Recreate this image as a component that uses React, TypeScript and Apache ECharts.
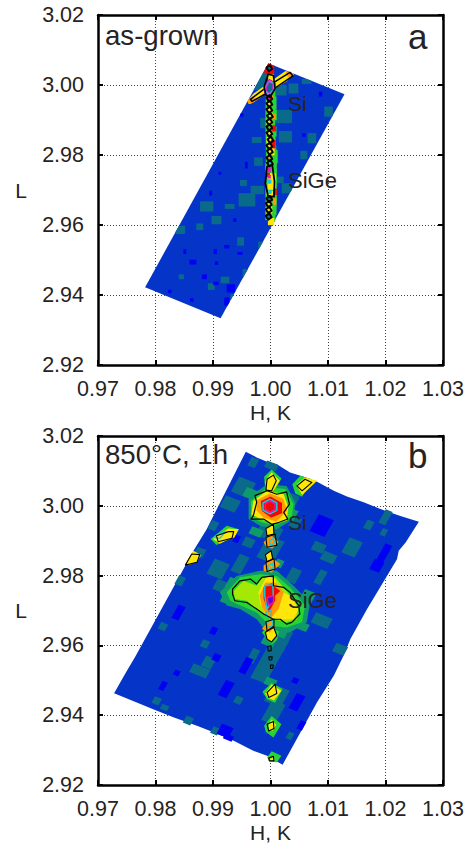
import React, { useEffect, useRef } from "react";
import * as echarts from "echarts";

type P = number[];
const hTicks = [0.97, 0.98, 0.99, 1.0, 1.01, 1.02, 1.03];
const lTicks = [2.92, 2.94, 2.96, 2.98, 3.0, 3.02];
const hName = "H, K";
const lName = "L";

// ---------- panel a: as-grown (H, L) ----------
const aFrame: P[] = [[0.99962, 3.00619], [1.01287, 2.99733], [0.99132, 2.93333], [0.97819, 2.94219]];
// cells: H, L, dH, dL
const aTeal: P[] = [
  [1.004, 2.999, 0.0017, 0.0029], [1.0023, 2.991, 0.0029, 0.0038], [1.0026, 2.9852, 0.0023, 0.0033],
  [1.0072, 2.9848, 0.0015, 0.0029], [1.0058, 2.98, 0.0012, 0.0024], [0.9976, 2.9843, 0.0017, 0.0017],
  [0.9979, 2.9781, 0.0015, 0.0024], [0.9988, 2.9891, 0.0012, 0.0029], [1.0101, 2.9924, 0.0015, 0.0029],
  [1.0063, 3.001, 0.0017, 0.0014], [0.9953, 2.972, 0.0012, 0.0017], [0.9959, 2.9672, 0.0029, 0.0038],
  [0.9977, 2.97, 0.0023, 0.0024], [0.9889, 2.9653, 0.0023, 0.0029], [0.9906, 2.9614, 0.0017, 0.0024],
  [0.9929, 2.9653, 0.0017, 0.0014], [0.9877, 2.9595, 0.0012, 0.0019], [0.9843, 2.9586, 0.0017, 0.0024],
  [1.0028, 2.9705, 0.0017, 0.0029], [1.0017, 2.9729, 0.0012, 0.0019], [0.9948, 2.9553, 0.0012, 0.0024],
  [0.9983, 2.9543, 0.0009, 0.0019], [0.9956, 2.9462, 0.0009, 0.0024], [0.9921, 2.9443, 0.0015, 0.0019],
  [0.9845, 2.9452, 0.0009, 0.0014], [0.9897, 2.9424, 0.0012, 0.0019], [0.9935, 2.9395, 0.0009, 0.0014],
  [0.998, 3.0005, 0.0022, 0.0038], [1.0018, 2.9985, 0.002, 0.003], [0.999, 3.0028, 0.0012, 0.0022],
];
const aDarkBlue: P[] = [
  [0.9865, 2.9494, 0.0012, 0.0014], [0.9885, 2.9452, 0.0009, 0.0014], [0.9905, 2.9433, 0.0009, 0.001],
  [0.9931, 2.9419, 0.0015, 0.0024], [0.9924, 2.9381, 0.0009, 0.0024], [0.9863, 2.9386, 0.0006, 0.001],
  [0.9825, 2.941, 0.0006, 0.001], [0.9958, 2.9771, 0.0005, 0.0019], [0.9912, 2.9748, 0.0005, 0.0008],
  [0.9896, 2.9691, 0.0005, 0.0014], [0.9938, 2.9614, 0.0006, 0.001], [0.9924, 2.9538, 0.0009, 0.001],
  [0.9947, 2.9519, 0.0009, 0.0008], [0.9904, 2.9524, 0.0006, 0.0014], [1.0087, 2.9974, 0.0006, 0.0014],
  [1.0058, 2.9857, 0.0006, 0.001], [0.995, 2.9914, 0.0006, 0.001], [0.9851, 2.9524, 0.0005, 0.0014],
  [0.9906, 2.9491, 0.0006, 0.001],
];
const aColumn: P[] = [
  [0.9992, 3.0005], [1.0008, 3.0005], [1.0009, 2.9948], [1.0008, 2.9867], [1.0011, 2.98], [1.0011, 2.967],
  [1.0008, 2.961], [1.0002, 2.9602], [0.9992, 2.9618], [0.9991, 2.97], [0.9992, 2.98], [0.9991, 2.99],
];
const aGreen: P[] = [
  [1.0002, 2.9948, 0.0017, 0.0038], [1.0005, 2.9914, 0.0012, 0.0029], [1.0002, 2.9867, 0.0017, 0.0029],
  [1.0005, 2.9795, 0.0015, 0.0038], [1.0002, 2.9653, 0.0017, 0.0048], [0.9994, 2.9767, 0.0006, 0.0019],
  [0.9997, 2.9633, 0.0012, 0.0038], [1.0003, 2.9738, 0.0016, 0.0045],
];
const aYellow: P[] = [
  [1.0001, 3.0029, 0.001, 0.0033], [1.0001, 2.9814, 0.0012, 0.0029], [0.9998, 2.9843, 0.001, 0.0017],
  [0.9998, 2.9895, 0.001, 0.0017], [0.9999, 2.9914, 0.0009, 0.0014], [0.9998, 2.9643, 0.001, 0.0019],
  [1.0001, 2.961, 0.0011, 0.0021], [0.9999, 2.9691, 0.0012, 0.0012], [0.9998, 2.9948, 0.0009, 0.0017],
  [1.0002, 2.9724, 0.0014, 0.0048], [0.9998, 2.9862, 0.001, 0.0012], [0.9998, 2.9929, 0.0009, 0.001],
  [0.9997, 2.966, 0.0009, 0.001],
];
const aOrange: P[] = [
  [1.0006, 2.991, 0.0006, 0.0016], [1.0007, 2.9667, 0.0006, 0.0019], [0.9997, 2.9795, 0.0006, 0.0014],
  [1.0003, 2.9964, 0.0004, 0.001],
];
const aRed: P[] = [
  [0.9998, 3.0046, 0.0017, 0.0031], [1.0006, 2.9876, 0.0007, 0.0017], [1.0005, 2.9831, 0.0008, 0.0024],
  [0.9998, 2.9957, 0.0008, 0.0013], [1.0008, 2.9695, 0.0006, 0.0019], [0.9996, 2.9743, 0.0006, 0.0012],
];
const aCyan: P[] = [
  [0.9998, 2.9776, 0.0008, 0.0017], [0.9998, 2.9724, 0.0007, 0.0012], [0.9999, 2.9695, 0.0006, 0.0012],
  [0.9997, 2.9757, 0.0006, 0.001], [0.9999, 2.9906, 0.0005, 0.0008],
];
const aMagenta: P[] = [
  [0.9998, 2.9757, 0.0005, 0.0013], [0.9998, 2.9738, 0.0005, 0.001], [0.9997, 2.9962, 0.0005, 0.0008],
];
const aTealCore: P[] = [
  [0.9998, 2.9676, 0.0006, 0.0011], [0.9998, 2.9624, 0.0006, 0.0011], [0.9998, 3.0048, 0.0005, 0.001],
];
const aStreak: P[] = [
  [0.996, 2.9955], [0.997, 2.9975], [0.9994, 3.0003], [1.0026, 3.004], [1.0041, 3.0032], [1.0028, 3.001],
  [0.9999, 2.9982], [0.997, 2.995], [0.9962, 2.9946],
];
const aStreakEndL: P[] = [[0.9959, 2.9953], [0.9969, 2.9968], [0.9977, 2.9958], [0.9965, 2.9945]];
const aStreakEndR: P[] = [[1.0026, 3.0039], [1.0041, 3.0033], [1.0041, 3.0028], [1.003, 3.0022]];
const aStreakLine: P[] = [
  [0.9965, 2.9959], [0.9997, 2.9998], [1.0034, 3.0036], [1.0039, 3.0026], [1.0002, 2.9985], [0.9968, 2.9953],
];
const aBlobCyan: P[] = [[0.9989, 2.9994], [0.9998, 3.0016], [1.0008, 3.0006], [1.0008, 2.9985], [0.9998, 2.9969], [0.999, 2.9976]];
const aBlobCore: P[] = [[0.9993, 2.9994], [0.9998, 3.0008], [1.0004, 3.0002], [1.0004, 2.9988], [0.9998, 2.9977], [0.9993, 2.9983]];
const aOutlineTop: P[] = [[0.9989, 2.9995], [0.9996, 3.0031], [1.0005, 3.0027], [1.0008, 2.999], [0.9999, 2.9965], [0.9992, 2.9971]];
const aOutlineSiGe: P[] = [[0.9994, 2.9767], [1.0003, 2.9772], [1.0007, 2.9724], [1.0006, 2.9681], [0.9996, 2.9681], [0.9991, 2.9719]];
// black links of the ridge: H, L
const aLinks: P[] = [
  [0.9998, 3.0048], [0.9998, 2.9962], [0.9998, 2.9946], [0.9998, 2.9929], [0.9999, 2.9911], [0.9998, 2.9895],
  [0.9998, 2.9879], [0.9998, 2.9862], [1.0, 2.9843], [0.9998, 2.9826], [0.9999, 2.981], [0.9998, 2.9791],
  [0.9999, 2.9776], [0.9998, 2.9674], [0.9997, 2.966], [0.9997, 2.9643], [0.9997, 2.9624],
];

// ---------- panel b: 850 C, 1h (H, L) ----------
const bFrame: P[] = [
  [0.9957, 3.01547], [0.9976, 3.01385], [0.9994, 3.0126], [1.0011, 3.0119], [1.0034, 3.00955], [1.0058, 3.0083],
  [1.0081, 3.0069], [1.011, 3.0043], [1.0133, 3.0027], [1.0162, 3.001], [1.0197, 2.9987], [1.0226, 2.9971],
  [1.0258, 2.9954], [1.0235, 2.9895], [1.0223, 2.9871], [1.022, 2.9847], [1.0168, 2.9704], [1.0139, 2.9618],
  [1.0127, 2.957], [1.011, 2.9513], [1.0081, 2.9437], [1.0021, 2.9258], [0.9994, 2.9284], [0.997, 2.9298],
  [0.9936, 2.9327], [0.9901, 2.9351], [0.9872, 2.937], [0.9831, 2.9394], [0.9796, 2.9417], [0.9761, 2.9441],
  [0.9728, 2.9463], [0.975, 2.9527], [0.9764, 2.9565], [0.9831, 2.9766], [0.9866, 2.9871], [0.9889, 2.9933],
];
const bTeal: P[] = [
  [0.997, 3.0124, 0.0013, 0.0024], [1.0002, 3.0115, 0.002, 0.0019], [0.9953, 3.0053, 0.0029, 0.0043],
  [0.993, 3.0005, 0.0026, 0.0033], [0.9901, 2.9943, 0.0012, 0.0024], [0.9877, 2.9866, 0.0015, 0.0024],
  [0.9962, 2.9895, 0.0017, 0.0024], [0.9909, 2.9819, 0.0026, 0.0043], [0.9947, 2.9833, 0.0017, 0.0048],
  [0.9912, 2.9771, 0.0017, 0.0029], [0.9843, 2.9785, 0.0012, 0.0024], [1.0087, 2.9795, 0.0012, 0.0038],
  [1.0101, 2.9852, 0.0023, 0.0024], [1.0084, 2.9881, 0.002, 0.0024], [1.004, 2.98, 0.0017, 0.0038],
  [1.0142, 2.9881, 0.0023, 0.0043], [1.0171, 2.9945, 0.0012, 0.0024], [1.02, 2.9967, 0.0012, 0.0038],
  [1.0197, 2.9924, 0.0009, 0.0019], [1.0121, 2.9589, 0.002, 0.0024], [1.0089, 2.9671, 0.0029, 0.0029],
  [0.9886, 2.9604, 0.0012, 0.0019], [0.9813, 2.9654, 0.0012, 0.0019], [0.9877, 2.9527, 0.0029, 0.0024],
  [0.9892, 2.9551, 0.0017, 0.0029], [0.9857, 2.9384, 0.0013, 0.0021], [0.9904, 2.9355, 0.0012, 0.0019],
  [0.9802, 2.9441, 0.0012, 0.0019], [0.9816, 2.9422, 0.0012, 0.0014], [0.9944, 2.9443, 0.0012, 0.0019],
  [0.997, 2.957, 0.0012, 0.0038], [0.9999, 2.9561, 0.0026, 0.0124], [1.0023, 2.9618, 0.0017, 0.0048],
  [1.0011, 2.9456, 0.0029, 0.0048], [1.0005, 2.9408, 0.0023, 0.0057], [1.0034, 2.9341, 0.0009, 0.0019],
  [1.0043, 2.9952, 0.0015, 0.0029], [1.0034, 3.0005, 0.0017, 0.0053], [1.0, 2.9875, 0.0028, 0.0062],
  [1.0008, 2.9925, 0.002, 0.0028], [0.9988, 2.9925, 0.002, 0.0028],
];
const bSeaCells: P[] = [
  [0.9935, 2.9775, 0.002, 0.003], [0.9925, 2.973, 0.002, 0.002], [1.0065, 2.974, 0.002, 0.003],
  [1.0055, 2.9655, 0.002, 0.002], [1.0018, 2.9635, 0.0018, 0.002], [0.9965, 3.0035, 0.002, 0.0025],
  [1.0035, 2.9975, 0.0018, 0.003], [0.9975, 2.9925, 0.002, 0.002], [0.9998, 2.9615, 0.002, 0.003],
  [1.0, 2.9495, 0.0018, 0.002], [1.0015, 2.9835, 0.0012, 0.002],
];
const bDarkBlue: P[] = [
  [1.0089, 2.9943, 0.0026, 0.0048], [1.0197, 2.9862, 0.0012, 0.0053], [1.0185, 2.9828, 0.0017, 0.0029],
  [0.984, 2.9694, 0.0012, 0.0038], [0.9901, 2.9642, 0.001, 0.0019], [0.9906, 2.9565, 0.0012, 0.0019],
  [0.9957, 2.9542, 0.0012, 0.0043], [0.9923, 2.9475, 0.0015, 0.0043], [1.0043, 2.9499, 0.001, 0.0014],
  [1.0046, 2.9437, 0.0015, 0.0043], [1.0055, 2.937, 0.0012, 0.0024], [0.9921, 2.9355, 0.002, 0.0029],
  [0.9927, 2.9336, 0.0015, 0.0014], [0.9813, 2.9484, 0.0009, 0.0024], [0.9837, 2.9521, 0.0009, 0.0014],
  [0.9941, 2.9905, 0.0009, 0.0019],
];
// Si peak
const bSiSea: P[] = [[0.9962, 3.0024], [0.9994, 3.0062], [1.0028, 3.0057], [1.0043, 3.001], [1.004, 2.9962], [1.0011, 2.9933], [0.9982, 2.9943], [0.9962, 2.9962]];
const bSiGreen: P[] = [[0.9966, 3.0014], [0.9994, 3.0053], [1.0026, 3.0048], [1.004, 3.0005], [1.0037, 2.9964], [1.0008, 2.9943], [0.9985, 2.9952], [0.9966, 2.9967]];
const bSiYellow: P[] = [[0.997, 3.0014], [0.9994, 3.0043], [1.0023, 3.0033], [1.0031, 2.9995], [1.0028, 2.9957], [1.0005, 2.9947], [0.9982, 2.9962], [0.9967, 2.9976]];
const bSiOrange: P[] = [[0.9976, 3.0016], [0.9999, 3.0035], [1.0022, 3.0021], [1.0029, 2.9986], [1.001, 2.9955], [0.9989, 2.9965], [0.9976, 2.9986]];
const bSiRed: P[] = [[0.9983, 3.0014], [1.0, 3.0027], [1.002, 3.0008], [1.002, 2.9979], [1.0001, 2.9966], [0.9985, 2.9985]];
const bSiCyan: P[] = [[0.9987, 3.0008], [0.9999, 3.0019], [1.0011, 3.0008], [1.0011, 2.9987], [0.9999, 2.9977], [0.9987, 2.9988]];
const bSiPink: P[] = [[0.9991, 3.0005], [0.9999, 3.0014], [1.0008, 3.0005], [1.0008, 2.999], [0.9999, 2.9981], [0.9991, 2.9991]];
const bSiBlack: P[] = [[0.997, 2.9971], [0.9976, 3.001], [0.9973, 3.0029], [0.9994, 3.0043], [1.0011, 3.0033], [1.0028, 3.004], [1.0033, 3.0005], [1.0023, 2.9981], [1.003, 2.9962], [1.0014, 2.9952], [1.0002, 2.9947], [0.9988, 2.9962], [0.9966, 2.9962]];
// SiGe peak
const bGeSea: P[] = [[0.9912, 2.9752], [0.9941, 2.9799], [0.9982, 2.9814], [1.0011, 2.9814], [1.004, 2.9771], [1.0069, 2.9723], [1.0063, 2.9666], [1.0034, 2.9637], [0.9994, 2.9637], [0.9976, 2.9675], [0.9947, 2.9704], [0.9924, 2.9714]];
const bGeGreen: P[] = [[0.9924, 2.9752], [0.9947, 2.9795], [0.9982, 2.9804], [1.0011, 2.9799], [1.0034, 2.9766], [1.006, 2.9714], [1.0055, 2.9666], [1.0028, 2.9651], [0.9999, 2.9656], [0.9976, 2.9694], [0.9947, 2.9715], [0.993, 2.9728]];
const bGeLime: P[] = [[0.9936, 2.9756], [0.9953, 2.9785], [0.9976, 2.9771], [0.9985, 2.9795], [1.0008, 2.9795], [1.0028, 2.9756], [1.0049, 2.9709], [1.0046, 2.9675], [1.0028, 2.9666], [1.0005, 2.9675], [0.9982, 2.9694], [0.9959, 2.9728], [0.9938, 2.9733]];
const bGeYellow: P[] = [[0.9979, 2.9752], [0.9994, 2.9799], [1.0008, 2.979], [1.0011, 2.9761], [1.0034, 2.9742], [1.0049, 2.9704], [1.004, 2.9675], [1.0011, 2.9675], [0.9994, 2.9685], [0.9982, 2.9718]];
const bGeOrange: P[] = [[0.9981, 2.9742], [0.9991, 2.978], [1.0008, 2.978], [1.0023, 2.9752], [1.0014, 2.9704], [0.9999, 2.9675], [0.9985, 2.9709]];
const bGeRed: P[] = [[0.9988, 2.9766], [1.0002, 2.9778], [1.0008, 2.9761], [1.0008, 2.9728], [0.9997, 2.9694], [0.9988, 2.9733]];
const bGeRedBit: P[] = [[1.0005, 2.9771], [1.0017, 2.9756], [1.0008, 2.9742]];
const bGeCyan: P[] = [[0.999, 2.9771], [1.0004, 2.9774], [1.0005, 2.9737], [0.9994, 2.9704], [0.999, 2.9742]];
const bGePurple: P[] = [[0.9994, 2.9737], [1.0005, 2.9742], [1.0005, 2.9723], [0.9997, 2.9714]];
const bGeBlack: P[] = [[0.9934, 2.9761], [0.9947, 2.9785], [0.9965, 2.979], [0.9976, 2.9776], [0.9985, 2.9795], [1.0005, 2.9799], [1.0005, 2.9771], [1.0023, 2.9766], [1.0034, 2.9752], [1.0049, 2.9714], [1.0051, 2.969], [1.0037, 2.9666], [1.0028, 2.9661], [1.0017, 2.9675], [1.0005, 2.9675], [0.9988, 2.969], [0.9976, 2.9704], [0.9959, 2.9723], [0.9938, 2.9728], [0.9934, 2.9747]];
// small spots: halo green, yellow fill, black outline
const bSpotGreen: P[][] = [
  [[0.9989, 3.0083], [1.0002, 3.0104], [1.0019, 3.0078], [1.0005, 3.0038], [0.9991, 3.0043]],
  [[1.0038, 3.0062], [1.0052, 3.0086], [1.0072, 3.0076], [1.0055, 3.0026], [1.0043, 3.0035]],
  [[0.9896, 2.9905], [0.9924, 2.9943], [0.9945, 2.9933], [0.9933, 2.9909], [0.9906, 2.9888]],
  [[0.9986, 2.9467], [1.0002, 2.9492], [1.0021, 2.9475], [1.0008, 2.9436], [0.9994, 2.9446]],
  [[0.9989, 2.937], [1.0002, 2.9398], [1.0019, 2.9374], [1.0005, 2.9336], [0.9992, 2.9352]],
  [[0.9994, 2.9279], [1.0002, 2.9297], [1.0019, 2.9284], [1.0011, 2.9265], [0.9999, 2.9267]],
  [[0.9985, 2.9637], [0.9995, 2.9655], [1.0015, 2.964], [1.0011, 2.9615], [1.0002, 2.9603]],
];
const bSpotYellow: P[][] = [
  [[0.9994, 3.0078], [1.0002, 3.0096], [1.0016, 3.0072], [1.0005, 3.0043], [0.9994, 3.0043], [0.9991, 3.0067]],
  [[1.0046, 3.0062], [1.006, 3.0081], [1.0081, 3.0072], [1.0066, 3.0048], [1.0055, 3.0031], [1.0046, 3.0057]],
  [[0.9906, 2.9914], [0.9927, 2.9935], [0.9945, 2.9933], [0.9937, 2.9909], [0.9922, 2.99], [0.9912, 2.9891], [0.99, 2.9905]],
  [[0.9866, 2.9871], [0.9879, 2.9859], [0.9872, 2.9838], [0.9857, 2.983], [0.9851, 2.9833]],
  [[0.9991, 2.9462], [1.0002, 2.9489], [1.0019, 2.947], [1.0006, 2.9443], [0.9996, 2.9449]],
  [[0.9997, 2.9374], [1.0002, 2.9388], [1.001, 2.9372], [1.0003, 2.9355], [0.9997, 2.9358]],
  [[0.9999, 2.9277], [1.0005, 2.9284], [1.0007, 2.9272], [1.0, 2.927]],
  [[0.9991, 2.9637], [1.0005, 2.9654], [1.0011, 2.9628], [1.0002, 2.961], [0.9994, 2.9618]],
  [[0.9992, 2.9935], [1.0005, 2.9947], [1.0006, 2.9919], [0.9994, 2.9914]],
  [[0.9991, 2.9857], [1.0001, 2.9871], [1.0004, 2.9847], [0.9994, 2.984]],
];
const bSpotOrange: P[][] = [
  [[0.9988, 2.9895], [0.9999, 2.992], [1.0014, 2.9896], [1.0003, 2.9878], [0.9993, 2.9881]],
  [[0.9988, 2.9828], [1.0002, 2.9852], [1.0017, 2.9833], [1.0002, 2.9809], [0.9988, 2.9814]],
  [[0.9985, 2.9647], [0.9999, 2.9675], [1.0008, 2.9656], [0.9999, 2.9637]],
];
const bSpotCyan: P[][] = [
  [[0.9998, 2.9898], [1.0005, 2.9908], [1.0007, 2.9893], [1.0, 2.9887]],
  [[0.9995, 2.9827], [1.0004, 2.9836], [1.0005, 2.9821], [0.9997, 2.9816]],
  [[0.9992, 2.9694], [1.0001, 2.9702], [1.0001, 2.9685], [0.9994, 2.968]],
  [[0.9994, 2.9666], [1.0004, 2.9673], [1.0004, 2.9656], [0.9995, 2.9651]],
  [[0.9902, 2.9909], [0.9908, 2.9918], [0.9922, 2.9926], [0.9912, 2.9907]],
];
const bSpotBlack: P[][] = [
  [[0.9994, 3.0076], [1.0005, 3.0088], [1.001, 3.0072], [1.0002, 3.0043], [0.9992, 3.0045]],
  [[1.0046, 3.0057], [1.006, 3.0076], [1.0072, 3.0067], [1.0055, 3.0043]],
  [[0.9992, 2.9935], [1.0005, 2.9947], [1.0006, 2.9919], [0.9994, 2.9914]],
  [[0.9992, 2.9909], [1.0008, 2.9919], [1.0011, 2.9887], [0.9994, 2.9881]],
  [[0.9906, 2.9914], [0.9927, 2.9926], [0.9936, 2.9926], [0.9933, 2.9907], [0.9909, 2.9897]],
  [[0.9863, 2.9862], [0.9877, 2.986], [0.9872, 2.9838], [0.9852, 2.983]],
  [[0.9991, 2.986], [1.0001, 2.9871], [1.0004, 2.9847], [0.9994, 2.984]],
  [[0.9992, 2.9838], [1.0006, 2.9849], [1.0008, 2.9819], [0.9994, 2.9812]],
  [[0.9992, 2.9668], [1.0006, 2.9675], [1.0006, 2.9651], [0.9994, 2.9642]],
  [[0.9991, 2.9637], [1.0005, 2.9654], [1.0011, 2.9628], [1.0002, 2.961], [0.9994, 2.9618]],
  [[0.9995, 2.9597], [1.0001, 2.9599], [1.0001, 2.9585], [0.9996, 2.9584]],
  [[0.9997, 2.9567], [1.0003, 2.9567], [1.0002, 2.9558], [0.9998, 2.9558]],
  [[1.0, 2.9544], [1.0005, 2.9544], [1.0004, 2.9534], [1.0, 2.9534]],
  [[0.9994, 2.9465], [1.0008, 2.9489], [1.0011, 2.9462], [0.9997, 2.9451]],
  [[0.9994, 2.9374], [1.0005, 2.9382], [1.0006, 2.9362], [0.9997, 2.9355]],
  [[0.9997, 2.9277], [1.0005, 2.9282], [1.0006, 2.9269], [0.9998, 2.9269]],
];
// corners of the scanned areas, used to trim the cells
const aBounds: P[] = aFrame;
const bBounds: P[] = [[0.9957, 3.01547], [1.0258, 2.9954], [1.0021, 2.9258], [0.9728, 2.9463]];

// ---------- colours ----------
const BLUE = "#0535c8";
const DARK_BLUE = "#0000f2";
const TEAL = "#0a6a8c";
const GREEN = "#27d433";
const SEA = "#0f9a6a";
const LIME = "#a4e806";
const YELLOW = "#ffe60a";
const ORANGE = "#ff9a06";
const RED = "#f40606";
const MAGENTA = "#e018c8";
const PURPLE = "#6a00c4";
const CYAN = "#16c8d8";
const BLACK = "#000000";
const INK = "#262324";

type Shape = { pts: P[]; fill?: string; stroke?: string; lw?: number };

// trim a polygon to a convex clockwise boundary
const trim = (poly: P[], bounds: P[]): P[] => {
  let out = poly;
  for (let i = 0; i < bounds.length && out.length; i++) {
    const a = bounds[i];
    const b = bounds[(i + 1) % bounds.length];
    const side = (p: P) => (b[0] - a[0]) * (p[1] - a[1]) - (b[1] - a[1]) * (p[0] - a[0]);
    const next: P[] = [];
    out.forEach((p, k) => {
      const q = out[(k + 1) % out.length];
      const sp = side(p);
      const sq = side(q);
      if (sp <= 0) next.push(p);
      if ((sp < 0 && sq > 0) || (sp > 0 && sq < 0)) {
        const t = sp / (sp - sq);
        next.push([p[0] + t * (q[0] - p[0]), p[1] + t * (q[1] - p[1])]);
      }
    });
    out = next;
  }
  return out;
};

// axis-aligned data cell
const rectCell = (c: P): P[] => {
  const [h, l, dh, dl] = c;
  return [[h - dh / 2, l + dl / 2], [h + dh / 2, l + dl / 2], [h + dh / 2, l - dl / 2], [h - dh / 2, l - dl / 2]];
};
// cell sheared along the scan directions of the mesh
const skewCell = (c: P): P[] => {
  const [h, l, dh, dl] = c;
  const w = dh / 2;
  const t = dl / 2;
  const u = [w, -0.663 * w];
  const v = [0.34 * t, t];
  return [
    [h - u[0] + v[0], l - u[1] + v[1]],
    [h + u[0] + v[0], l + u[1] + v[1]],
    [h + u[0] - v[0], l + u[1] - v[1]],
    [h - u[0] - v[0], l - u[1] - v[1]],
  ];
};
const linkCell = (c: P): P[] => {
  const [h, l] = c;
  return [[h - 0.0005, l + 0.0002], [h + 0.0001, l + 0.0009], [h + 0.0005, l - 0.0002], [h - 0.0001, l - 0.0009]];
};
const fillAll = (list: P[], f: (c: P) => P[], fill: string, bounds?: P[]): Shape[] =>
  list.map((c) => ({ pts: bounds ? trim(f(c), bounds) : f(c), fill })).filter((s) => s.pts.length > 2);

const aShapes: Shape[] = [
  { pts: aFrame, fill: BLUE },
  ...fillAll(aTeal, rectCell, TEAL, aBounds),
  ...fillAll(aDarkBlue, rectCell, DARK_BLUE, aBounds),
  { pts: aColumn, fill: GREEN },
  ...fillAll(aGreen, rectCell, GREEN),
  ...fillAll(aYellow, rectCell, YELLOW),
  ...fillAll(aOrange, rectCell, ORANGE),
  ...fillAll(aRed, rectCell, RED, aBounds),
  { pts: aStreak, fill: YELLOW },
  { pts: aStreakEndL, fill: ORANGE },
  { pts: aStreakEndR, fill: ORANGE },
  { pts: aStreakLine, stroke: BLACK, lw: 1.5 },
  { pts: aBlobCyan, fill: CYAN, stroke: MAGENTA, lw: 1.2 },
  { pts: aBlobCore, fill: TEAL, stroke: MAGENTA, lw: 1 },
  ...fillAll(aCyan, rectCell, CYAN),
  ...fillAll(aMagenta, rectCell, MAGENTA),
  ...fillAll(aTealCore, rectCell, TEAL),
  { pts: aOutlineTop, stroke: BLACK, lw: 1.6 },
  { pts: aOutlineSiGe, stroke: BLACK, lw: 1.8 },
  ...aLinks.map((c) => ({ pts: linkCell(c), stroke: BLACK, lw: 2 })),
];

const filled = (polys: P[][], fill: string): Shape[] => polys.map((pts) => ({ pts, fill }));
const bShapes: Shape[] = [
  { pts: bFrame, fill: BLUE },
  ...fillAll(bTeal, skewCell, TEAL, bBounds),
  ...fillAll(bDarkBlue, skewCell, DARK_BLUE, bBounds),
  ...fillAll(bSeaCells, skewCell, SEA, bBounds),
  ...filled([bSiSea, bGeSea], SEA),
  ...filled([bSiGreen, bGeGreen], GREEN),
  ...filled(bSpotGreen, GREEN),
  { pts: bGeLime, fill: LIME },
  ...filled([bSiYellow, bGeYellow], YELLOW),
  ...filled(bSpotYellow, YELLOW),
  ...filled([bSiOrange, bGeOrange], ORANGE),
  ...filled(bSpotOrange, ORANGE),
  ...filled([bSiRed, bGeRed, bGeRedBit], RED),
  { pts: bSiCyan, stroke: CYAN, lw: 1.5 },
  { pts: bSiPink, stroke: MAGENTA, lw: 1.3 },
  { pts: bGeCyan, stroke: CYAN, lw: 1.5 },
  { pts: bGePurple, fill: PURPLE, stroke: MAGENTA, lw: 1.2 },
  ...bSpotCyan.map((pts) => ({ pts, stroke: CYAN, lw: 1.2 })),
  { pts: bSiBlack, stroke: BLACK, lw: 1.2 },
  { pts: bGeBlack, stroke: BLACK, lw: 1.2 },
  ...bSpotBlack.map((pts) => ({ pts, stroke: BLACK, lw: 1.1 })),
];

const FONT = '"Liberation Sans", Arial, sans-serif';
const GRID_LEFT = 98;
const GRID_WIDTH = 345;
const panels = [
  { top: 15, height: 350, shapes: aShapes },
  { top: 436, height: 349, shapes: bShapes },
];

const notes = [
  { text: "as-grown", x: 105, y: 35, size: 27.6 },
  { text: "a", x: 408, y: 36, size: 35 },
  { text: "Si", x: 288, y: 103, size: 21 },
  { text: "SiGe", x: 288, y: 180, size: 22 },
  { text: "850°C, 1h", x: 105, y: 454, size: 27.6 },
  { text: "b", x: 408, y: 455, size: 35 },
  { text: "Si", x: 288, y: 522, size: 21 },
  { text: "SiGe", x: 288, y: 600, size: 22 },
];

export default function App() {
  const ref = useRef<HTMLDivElement>(null);
  useEffect(() => {
    const chart = echarts.init(ref.current!, undefined, { renderer: "svg" });
    const tick = { show: true, inside: true, length: 5, lineStyle: { color: BLACK, width: 2 } };
    const axisLine = { show: true, onZero: false, lineStyle: { color: BLACK, width: 2.5 } };
    const split = { show: true, lineStyle: { color: "#444", type: [1, 2] as any, width: 1 } };
    const xAxis: any[] = [];
    const yAxis: any[] = [];
    panels.forEach((_, g) => {
      xAxis.push({
        gridIndex: g, type: "value", min: hTicks[0], max: hTicks[hTicks.length - 1], interval: 0.01,
        position: "bottom", axisLine, axisTick: tick, splitLine: split,
        axisLabel: { margin: 13, fontSize: 21.5, fontFamily: FONT, color: INK, formatter: (v: number) => v.toFixed(2), hideOverlap: false, showMinLabel: true, showMaxLabel: true },
        name: hName, nameLocation: "middle", nameGap: 37, nameTextStyle: { fontSize: 21, fontFamily: FONT, color: INK },
      });
      xAxis.push({
        gridIndex: g, type: "value", min: hTicks[0], max: hTicks[hTicks.length - 1], interval: 0.01,
        position: "top", axisLine, axisTick: tick, splitLine: { show: false }, axisLabel: { show: false },
      });
      yAxis.push({
        gridIndex: g, type: "value", min: lTicks[0], max: lTicks[lTicks.length - 1], interval: 0.02,
        position: "left", axisLine, axisTick: tick, splitLine: split,
        axisLabel: { margin: 14, fontSize: 21.5, fontFamily: FONT, color: INK, formatter: (v: number) => v.toFixed(2), showMinLabel: true, showMaxLabel: true },
        name: lName, nameLocation: "middle", nameGap: 71, nameRotate: 0, nameTextStyle: { fontSize: 21, fontFamily: FONT, color: INK },
      });
      yAxis.push({
        gridIndex: g, type: "value", min: lTicks[0], max: lTicks[lTicks.length - 1], interval: 0.02,
        position: "right", axisLine, axisTick: tick, splitLine: { show: false }, axisLabel: { show: false },
      });
    });
    chart.setOption({
      animation: false,
      backgroundColor: "#ffffff",
      grid: panels.map((p) => ({ left: GRID_LEFT, width: GRID_WIDTH, top: p.top, height: p.height })),
      xAxis,
      yAxis,
      series: panels.map((p, g) => ({
        type: "custom",
        xAxisIndex: g * 2,
        yAxisIndex: g * 2,
        silent: true,
        z: 3,
        clip: false,
        data: p.shapes.map((s) => s.pts[0]),
        encode: { x: 0, y: 1 },
        renderItem: (params: any, api: any) => {
          const s = p.shapes[params.dataIndex];
          return {
            type: "polygon",
            shape: { points: s.pts.map((q) => api.coord(q)) },
            style: { fill: s.fill ?? "none", stroke: s.stroke ?? "none", lineWidth: s.lw ?? 0, lineJoin: "round" },
          };
        },
      })),
      graphic: notes.map((n) => ({
        type: "text",
        x: n.x,
        y: n.y,
        z: 20,
        style: { text: n.text, fill: INK, font: `${n.size}px ${FONT}`, verticalAlign: "middle" },
      })),
    });
    return () => chart.dispose();
  }, []);
  return <div ref={ref} style={{ position: "absolute", left: 0, top: 0, width: 471, height: 846 }} />;
}
